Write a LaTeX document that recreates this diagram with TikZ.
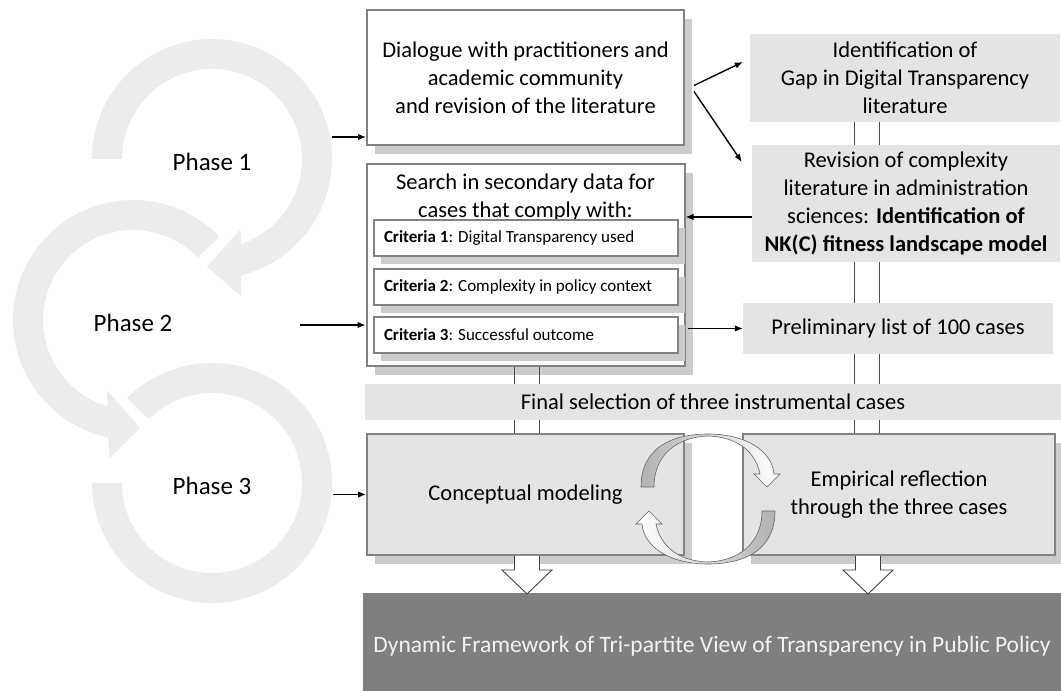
\documentclass[tikz,border=0pt]{standalone}
\usepackage{fontspec}
\setmainfont{Carlito}
\usepackage{tikz}
\usetikzlibrary{positioning, arrows.meta, shadows, calc}
\definecolor{boxgrey}{RGB}{228,228,228}
\definecolor{edgegrey}{RGB}{130,130,130}
\definecolor{shadegrey}{RGB}{204,204,204}
\definecolor{darkgrey}{RGB}{127,127,127}
\definecolor{phasegrey}{RGB}{236,236,236}
\tikzset{
    base/.style={align=center, inner sep=0pt, font=\fontsize{22.5}{28}\selectfont},
    whitebox/.style={base, draw=edgegrey, line width=2pt, fill=white,
        drop shadow={shadow xshift=8pt, shadow yshift=-9pt, fill=shadegrey, opacity=1}},
    critbox/.style={draw=edgegrey, line width=2pt, fill=white, minimum width=304pt, minimum height=36pt,
        text width=284pt, align=flush left, inner sep=0pt, font=\fontsize{17}{20}\selectfont,
        drop shadow={shadow xshift=7pt, shadow yshift=-8pt, fill=shadegrey, opacity=1}},
    greybox/.style={base, fill=boxgrey},
    modelbox/.style={base, fill=boxgrey, draw=edgegrey, line width=2pt,
        drop shadow={shadow xshift=8pt, shadow yshift=-9pt, fill=shadegrey, opacity=1}},
    darkbox/.style={base, fill=darkgrey, text=white!95!black, font=\fontsize{23.5}{28}\selectfont},
    phasetext/.style={font=\fontsize{25}{30}\selectfont},
    arrow/.style={-{Latex[length=8pt, width=6.5pt]}, line width=1.4pt},
    pair/.style={draw=black!70, line width=0.8pt},
    phase/.style={fill=phasegrey},
    hollow/.style={draw=black!75, line width=0.9pt, fill=white},
    cyc/.style={draw=black!60, line width=0.6pt}
}

\begin{document}
\begin{tikzpicture}[x=1pt, y=1pt]
    \useasboundingbox (0,0) rectangle (1061,691);

    % Phase circles
    \coordinate (c1) at (212,532);
    \coordinate (c2) at (133,371);
    \coordinate (c3) at (212,208);
    \fill[phase] (c1) ++(180:120) arc[start angle=180, end angle=-76, radius=120]
        -- ($(c1)+(-78:140)$) -- ($(c1)+(-92.7:108)$) -- ($(c1)+(-68:76)$)
        -- ($(c1)+(-71:90)$) arc[start angle=-71, end angle=180, radius=90] -- cycle;
    \fill[phase] (c2) ++(44:120) arc[start angle=44, end angle=258, radius=120]
        -- ($(c2)+(260.5:140)$) -- ($(c2)+(273.7:108)$) -- ($(c2)+(249.6:75)$)
        -- ($(c2)+(253.5:90)$) arc[start angle=253.5, end angle=44, radius=90] -- cycle;
    \fill[phase] (c3) ++(135:120) arc[start angle=135, end angle=-180, radius=120]
        -- ($(c3)+(180:90)$) arc[start angle=-180, end angle=135, radius=90] -- cycle;
    \node[phasetext] (ph1) at ([yshift=-3pt]c1) {Phase 1};
    \node[phasetext] (ph2) at ([yshift=-3pt]c2) {Phase 2};
    \node[phasetext] (ph3) at ([yshift=-3pt]c3) {Phase 3};

    % Left column
    \node[whitebox, minimum width=317pt, minimum height=135pt] (dlg) at (525.5,613.5)
        {Dialogue with practitioners and\\academic community\\and revision of the literature};
    \node[whitebox, minimum width=318pt, minimum height=202pt, below=17pt of dlg,
        label={[base, anchor=north, yshift=-11pt]north:{Search in secondary data for\\cases that comply with:}}] (search) {};
    \node[critbox] (crit1) at (526,453) {\textbf{Criteria 1}: Digital Transparency used};
    \node[critbox, below=11pt of crit1] (crit2) {\textbf{Criteria 2}: Complexity in policy context};
    \node[critbox, below=10pt of crit2] (crit3) {\textbf{Criteria 3}: Successful outcome};

    % Right column
    \node[greybox, minimum width=310pt, minimum height=88pt] (ident) at (905,613)
        {Identification of\\Gap in Digital Transparency\\literature};
    \node[greybox, minimum width=308pt, minimum height=117pt] (rev) at (906,487.5)
        {Revision of complexity\\literature in administration\\sciences: \textbf{Identification of}\\\textbf{NK(C) fitness landscape model}};
    \node[greybox, minimum width=310pt, minimum height=51pt] (prelim) at (898,362.5)
        {Preliminary list of 100 cases};
    \node[greybox, minimum width=696pt, minimum height=36pt] (final) at (713,289)
        {Final selection of three instrumental cases};

    % Modelling boxes
    \node[modelbox, minimum width=317pt, minimum height=121pt] (concept) at (525.5,196.5)
        {Conceptual modeling};
    \node[modelbox, minimum width=312pt, minimum height=121pt] (empir) at (899,196.5)
        {Empirical reflection\\through the three cases};
    \node[darkbox, minimum width=698pt, minimum height=98pt, text height=22pt, text depth=0pt] (frame) at (712,49)
        {Dynamic Framework of Tri-partite View of Transparency in Public Policy};

    % Double lines
    \foreach \x in {514,539} {
        \draw[pair] (search.south -| \x,0) -- (final.north -| \x,0);
        \draw[pair] (final.south -| \x,0) -- (concept.north -| \x,0);
    }
    \foreach \x in {854,879} {
        \draw[pair] (ident.south -| \x,0) -- (rev.north -| \x,0);
        \draw[pair] (rev.south -| \x,0) -- (prelim.north -| \x,0);
        \draw[pair] (prelim.south -| \x,0) -- (final.north -| \x,0);
        \draw[pair] (final.south -| \x,0) -- (empir.north -| \x,0);
    }

    % Connections
    \coordinate (p1out) at (332,554);
    \coordinate (p2out) at (300,366);
    \coordinate (p3out) at (333,196.5);
    \draw[arrow] (p1out) -- (p1out -| dlg.west);
    \draw[arrow] (p2out) -- (p2out -| search.west);
    \draw[arrow] (p3out) -- (concept.west);
    \draw[arrow] ([xshift=9pt, yshift=-8pt]dlg.east) -- ([xshift=-7pt, yshift=16pt]ident.west);
    \draw[arrow] ([xshift=9pt, yshift=-14pt]dlg.east) -- ([xshift=-10pt, yshift=41.5pt]rev.west);
    \draw[arrow] ([yshift=-13.5pt]rev.west) -- ([yshift=-13.5pt]rev.west -| search.east);
    \draw[arrow] (search.east |- prelim.west) ++(2pt,0) -- (prelim.west);

    % Hollow arrows down
    \draw[hollow] ([xshift=1.5pt]concept.south) ++(-12.5,0) -- ++(0,-14) -- ++(-12.5,0)
        -- ++(25,-24) -- ++(25,24) -- ++(-12.5,0) -- ++(0,14);
    \draw[hollow] ([xshift=-31pt]empir.south) ++(-12.5,0) -- ++(0,-14) -- ++(-12.5,0)
        -- ++(25,-24) -- ++(25,24) -- ++(-12.5,0) -- ++(0,14);

    % Cycle between the two modelling boxes
    \coordinate (cc) at (708,192);
    \draw[cyc, left color=black!30, right color=white, shift={(cc)}]
        (-67,12) .. controls (-67,50) and (-38,65) .. (0,65)
        .. controls (38,65) and (64,48) .. (66,25)
        -- (72,25) -- (59,12) -- (46,25) -- (52,25)
        .. controls (48,45) and (32,62) .. (0,63)
        .. controls (-30,62) and (-54,45) .. (-54,12) -- cycle;
    \draw[cyc, left color=white, right color=black!30, shift={(cc)}, rotate=180]
        (-67,12) .. controls (-67,50) and (-38,65) .. (0,65)
        .. controls (38,65) and (64,48) .. (66,25)
        -- (72,25) -- (59,12) -- (46,25) -- (52,25)
        .. controls (48,45) and (32,62) .. (0,63)
        .. controls (-30,62) and (-54,45) .. (-54,12) -- cycle;
\end{tikzpicture}
\end{document}
